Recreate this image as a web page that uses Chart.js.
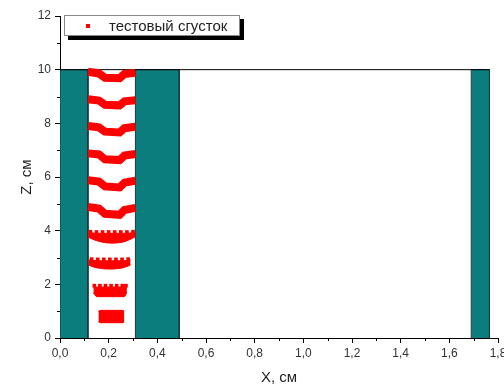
<!DOCTYPE html>
<html>
<head>
<meta charset="utf-8">
<script src="https://cdn.jsdelivr.net/npm/chart.js@4/dist/chart.umd.min.js"></script>
<style>
html,body{margin:0;padding:0;background:#fff;}
#wrap{width:504px;height:387px;}
</style>
</head>
<body>
<div id="wrap"><canvas id="c" width="504" height="387"></canvas></div>
<script>
// ---- data ----
const xTickValues = [0, 0.2, 0.4, 0.6, 0.8, 1.0, 1.2, 1.4, 1.6, 1.8];
const xMinorTicks = [0.1, 0.3, 0.5, 0.7, 0.9, 1.1, 1.3, 1.5, 1.7];
const yTickValues = [0, 2, 4, 6, 8, 10, 12];
const yMinorTicks = [1, 3, 5, 7, 9, 11];
const xTitle = 'X, см';
const yTitle = 'Z, см';
const legendLabel = 'тестовый сгусток';

// teal walls
const wallLeft  = [0, 0.31, 1.69];
const wallRight = [0.115, 0.49, 1.765];
const wallTop = 10;
const containerRight = 1.765;

// upper clot layers (chevrons)
const chevronX  = [0.115, 0.16, 0.185, 0.245, 0.265, 0.31];
const clot10Y = [9.92, 9.86, 9.70, 9.68, 9.84, 9.88];
const clot9Y  = [8.90, 8.85, 8.69, 8.67, 8.82, 8.86];
const clot8Y  = [7.90, 7.85, 7.69, 7.66, 7.82, 7.87];
const clot7Y  = [6.88, 6.84, 6.66, 6.63, 6.80, 6.86];
const clot6Y  = [5.88, 5.83, 5.65, 5.61, 5.79, 5.86];
const clot5Y  = [4.88, 4.82, 4.63, 4.59, 4.77, 4.85];

// lower clot layers (crescents / blocks)
const clot4X      = [0.115, 0.14, 0.17, 0.20, 0.23, 0.26, 0.285, 0.31];
const clot4Top    = [3.93, 3.91, 3.90, 3.90, 3.90, 3.90, 3.91, 3.93];
const clot4Bottom = [3.76, 3.66, 3.58, 3.54, 3.54, 3.58, 3.66, 3.77];
const teeth4X = [0.125, 0.15, 0.175, 0.20, 0.225, 0.25, 0.275, 0.30];
const teeth4Y = [3.96, 3.95, 3.95, 3.95, 3.95, 3.95, 3.95, 3.96];

const clot3X      = [0.117, 0.14, 0.17, 0.20, 0.23, 0.26, 0.29];
const clot3Top    = [2.91, 2.89, 2.88, 2.88, 2.88, 2.88, 2.90];
const clot3Bottom = [2.72, 2.64, 2.59, 2.57, 2.58, 2.62, 2.72];
const teeth3X = [0.13, 0.155, 0.18, 0.205, 0.23, 0.255, 0.28];
const teeth3Y = [2.94, 2.93, 2.93, 2.93, 2.93, 2.93, 2.94];

const clot2X      = [0.137, 0.15, 0.265, 0.275];
const clot2Top    = [1.90, 1.90, 1.90, 1.90];
const clot2Bottom = [1.68, 1.54, 1.54, 1.68];
const teeth2X = [0.141, 0.164, 0.187, 0.210, 0.233, 0.256, 0.271];
const teeth2Y = [1.95, 1.95, 1.95, 1.95, 1.95, 1.95, 1.95];

const clot1X      = [0.158, 0.163, 0.258, 0.264];
const clot1Top    = [0.98, 1.03, 1.03, 1.00];
const clot1Bottom = [0.62, 0.57, 0.57, 0.60];

// ---- styles ----
const RED = '#ff0000';
const TEAL = '#0b7d7d';
const FONT = '"Liberation Sans", Arial, sans-serif';

const pts = (xs, ys) => xs.map((x, i) => ({x: x, y: ys[i]}));

const datasets = [];
// chevrons
[clot10Y, clot9Y, clot8Y, clot7Y, clot6Y, clot5Y].forEach(ys => {
  datasets.push({data: pts(chevronX, ys), borderColor: RED, borderWidth: 8,
    pointRadius: 0, fill: false, borderJoinStyle: 'miter', order: 0});
});
// crescents & blocks: top line filled to bottom line
[[clot4X, clot4Top, clot4Bottom, 0.4], [clot3X, clot3Top, clot3Bottom, 0.4],
 [clot2X, clot2Top, clot2Bottom, 0], [clot1X, clot1Top, clot1Bottom, 0]].forEach(([xs, t, b, ten]) => {
  datasets.push({data: pts(xs, t), borderColor: RED, backgroundColor: RED, borderWidth: 1,
    pointRadius: 0, fill: '+1', tension: ten, order: 0});
  datasets.push({data: pts(xs, b), borderColor: RED, borderWidth: 1,
    pointRadius: 0, fill: false, tension: ten, order: 0});
});
// teeth
[[teeth4X, teeth4Y], [teeth3X, teeth3Y], [teeth2X, teeth2Y]].forEach(([xs, ys]) => {
  datasets.push({data: pts(xs, ys), showLine: false, pointStyle: 'rect', pointRadius: 2.6,
    pointBackgroundColor: RED, pointBorderWidth: 0, order: 0});
});
// container top line
datasets.push({data: [{x: 0, y: wallTop}, {x: containerRight, y: wallTop}], borderColor: '#000',
  borderWidth: 1, pointRadius: 0, fill: false, order: 1});
// teal walls
wallLeft.forEach((l, i) => {
  const r = wallRight[i];
  datasets.push({data: [{x: l, y: 0}, {x: l, y: wallTop}, {x: r, y: wallTop}, {x: r, y: 0}],
    borderColor: '#173a3a', borderWidth: 1, backgroundColor: TEAL, pointRadius: 0,
    fill: 'origin', order: 2});
});

const minorTicksPlugin = {
  id: 'minorTicks',
  afterDraw(chart) {
    const {ctx, scales: {x, y}} = chart;
    ctx.save();
    ctx.strokeStyle = '#000';
    ctx.lineWidth = 1;
    ctx.beginPath();
    xMinorTicks.forEach(v => {
      const px = Math.round(x.getPixelForValue(v)) + 0.5;
      ctx.moveTo(px, y.bottom);
      ctx.lineTo(px, y.bottom + 3);
    });
    yMinorTicks.forEach(v => {
      const py = Math.round(y.getPixelForValue(v)) + 0.5;
      ctx.moveTo(x.left, py);
      ctx.lineTo(x.left - 3, py);
    });
    ctx.stroke();
    ctx.restore();
  }
};

const legendPlugin = {
  id: 'clotLegend',
  afterDraw(chart) {
    const {ctx, scales: {x, y}} = chart;
    const bx = x.left + 4, by = y.top - 1, bw = 176, bh = 21;
    ctx.save();
    ctx.fillStyle = '#000';
    ctx.fillRect(bx + 4, by + 4, bw, bh);
    ctx.fillStyle = '#fff';
    ctx.fillRect(bx, by, bw, bh);
    ctx.strokeStyle = '#888';
    ctx.lineWidth = 1;
    ctx.strokeRect(bx + 0.5, by + 0.5, bw - 1, bh - 1);
    ctx.fillStyle = RED;
    ctx.fillRect(bx + 22, by + 9, 4, 4);
    ctx.font = '15px ' + FONT;
    ctx.fillStyle = '#222';
    ctx.textBaseline = 'middle';
    ctx.fillText(legendLabel, bx + 45, by + bh / 2 + 1);
    ctx.restore();
  }
};

new Chart(document.getElementById('c'), {
  type: 'line',
  data: {datasets: datasets},
  options: {
    responsive: false,
    animation: false,
    devicePixelRatio: 1,
    layout: {padding: {top: 16, right: 6, left: 0, bottom: 0}},
    plugins: {legend: {display: false}, tooltip: {enabled: false}},
    scales: {
      x: {
        type: 'linear', min: 0, max: 1.8,
        afterBuildTicks: s => { s.ticks = xTickValues.map(v => ({value: v})); },
        afterFit: s => { s.height = 49; s.paddingRight = 0; s.paddingLeft = 0; },
        ticks: {
          font: {size: 12, family: FONT}, color: '#333', padding: 3, autoSkip: false, maxRotation: 0,
          callback: v => Number(v).toFixed(1).replace('.', ',')
        },
        grid: {display: true, drawOnChartArea: false, drawTicks: true, tickLength: 5, color: '#000'},
        border: {display: true, color: '#000', width: 1},
        title: {display: true, text: xTitle, font: {size: 15, family: FONT}, color: '#222', padding: {top: 0, bottom: 0}}
      },
      y: {
        type: 'linear', min: 0, max: 12,
        afterBuildTicks: s => { s.ticks = yTickValues.map(v => ({value: v})); },
        afterFit: s => { s.width = 60; },
        ticks: {font: {size: 12, family: FONT}, color: '#333', padding: 4, autoSkip: false},
        grid: {display: true, drawOnChartArea: false, drawTicks: true, tickLength: 5, color: '#000'},
        border: {display: true, color: '#000', width: 1},
        title: {display: true, text: yTitle, font: {size: 15, family: FONT}, color: '#222', padding: {top: 18, bottom: 0}}
      }
    }
  },
  plugins: [minorTicksPlugin, legendPlugin]
});
</script>
</body>
</html>
